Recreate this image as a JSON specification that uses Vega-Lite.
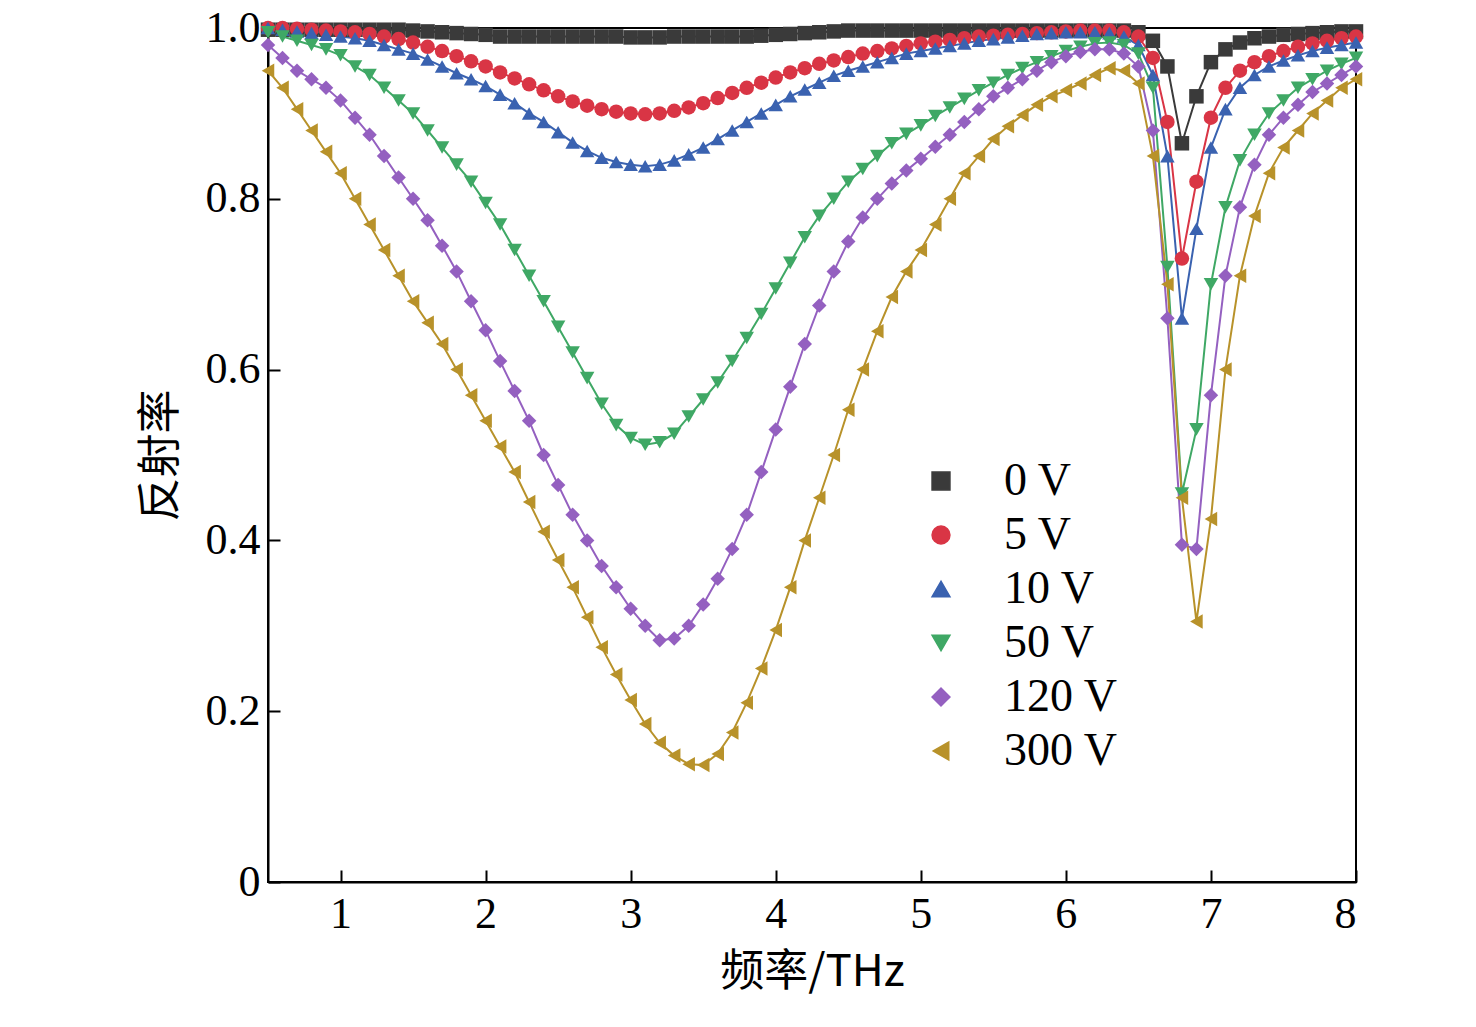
{
  "$schema": "https://vega.github.io/schema/vega-lite/v6.json",
  "width": 1088,
  "height": 854,
  "autosize": {"type": "none"},
  "padding": {"left": 268, "top": 28, "right": 120, "bottom": 145},
  "background": "white",
  "data": {
    "values": [
      {"f":0.5,"0 V":0.998,"5 V":1.0,"10 V":1.0,"50 V":0.995,"120 V":0.98,"300 V":0.95},
      {"f":0.6,"0 V":0.998,"5 V":1.0,"10 V":0.998,"50 V":0.99,"120 V":0.965,"300 V":0.93},
      {"f":0.7,"0 V":0.998,"5 V":0.999,"10 V":0.996,"50 V":0.985,"120 V":0.95,"300 V":0.905},
      {"f":0.8,"0 V":0.998,"5 V":0.998,"10 V":0.994,"50 V":0.98,"120 V":0.94,"300 V":0.88},
      {"f":0.9,"0 V":0.998,"5 V":0.997,"10 V":0.992,"50 V":0.975,"120 V":0.93,"300 V":0.855},
      {"f":1.0,"0 V":0.998,"5 V":0.996,"10 V":0.99,"50 V":0.968,"120 V":0.915,"300 V":0.83},
      {"f":1.1,"0 V":0.998,"5 V":0.995,"10 V":0.988,"50 V":0.955,"120 V":0.895,"300 V":0.8},
      {"f":1.2,"0 V":0.998,"5 V":0.993,"10 V":0.985,"50 V":0.945,"120 V":0.875,"300 V":0.77},
      {"f":1.3,"0 V":0.998,"5 V":0.99,"10 V":0.98,"50 V":0.93,"120 V":0.85,"300 V":0.74},
      {"f":1.4,"0 V":0.998,"5 V":0.987,"10 V":0.975,"50 V":0.915,"120 V":0.825,"300 V":0.71},
      {"f":1.5,"0 V":0.997,"5 V":0.983,"10 V":0.97,"50 V":0.9,"120 V":0.8,"300 V":0.68},
      {"f":1.6,"0 V":0.996,"5 V":0.978,"10 V":0.963,"50 V":0.88,"120 V":0.775,"300 V":0.655},
      {"f":1.7,"0 V":0.995,"5 V":0.973,"10 V":0.955,"50 V":0.86,"120 V":0.745,"300 V":0.63},
      {"f":1.8,"0 V":0.994,"5 V":0.967,"10 V":0.947,"50 V":0.84,"120 V":0.715,"300 V":0.6},
      {"f":1.9,"0 V":0.993,"5 V":0.961,"10 V":0.94,"50 V":0.82,"120 V":0.68,"300 V":0.57},
      {"f":2.0,"0 V":0.992,"5 V":0.955,"10 V":0.932,"50 V":0.795,"120 V":0.646,"300 V":0.54},
      {"f":2.1,"0 V":0.99,"5 V":0.948,"10 V":0.922,"50 V":0.77,"120 V":0.61,"300 V":0.51},
      {"f":2.2,"0 V":0.99,"5 V":0.941,"10 V":0.912,"50 V":0.74,"120 V":0.575,"300 V":0.48},
      {"f":2.3,"0 V":0.99,"5 V":0.934,"10 V":0.9,"50 V":0.71,"120 V":0.54,"300 V":0.445},
      {"f":2.4,"0 V":0.99,"5 V":0.927,"10 V":0.89,"50 V":0.68,"120 V":0.5,"300 V":0.41},
      {"f":2.5,"0 V":0.99,"5 V":0.92,"10 V":0.878,"50 V":0.65,"120 V":0.465,"300 V":0.377},
      {"f":2.6,"0 V":0.99,"5 V":0.914,"10 V":0.866,"50 V":0.62,"120 V":0.43,"300 V":0.345},
      {"f":2.7,"0 V":0.99,"5 V":0.909,"10 V":0.856,"50 V":0.59,"120 V":0.4,"300 V":0.31},
      {"f":2.8,"0 V":0.99,"5 V":0.905,"10 V":0.848,"50 V":0.56,"120 V":0.37,"300 V":0.275},
      {"f":2.9,"0 V":0.99,"5 V":0.902,"10 V":0.843,"50 V":0.535,"120 V":0.345,"300 V":0.243},
      {"f":3.0,"0 V":0.989,"5 V":0.9,"10 V":0.84,"50 V":0.52,"120 V":0.32,"300 V":0.213},
      {"f":3.1,"0 V":0.989,"5 V":0.899,"10 V":0.838,"50 V":0.512,"120 V":0.3,"300 V":0.185},
      {"f":3.2,"0 V":0.989,"5 V":0.9,"10 V":0.84,"50 V":0.515,"120 V":0.283,"300 V":0.163},
      {"f":3.3,"0 V":0.99,"5 V":0.903,"10 V":0.845,"50 V":0.525,"120 V":0.285,"300 V":0.148},
      {"f":3.4,"0 V":0.99,"5 V":0.907,"10 V":0.852,"50 V":0.545,"120 V":0.3,"300 V":0.138},
      {"f":3.5,"0 V":0.99,"5 V":0.912,"10 V":0.86,"50 V":0.565,"120 V":0.325,"300 V":0.137},
      {"f":3.6,"0 V":0.99,"5 V":0.918,"10 V":0.87,"50 V":0.585,"120 V":0.355,"300 V":0.15},
      {"f":3.7,"0 V":0.99,"5 V":0.924,"10 V":0.88,"50 V":0.61,"120 V":0.39,"300 V":0.175},
      {"f":3.8,"0 V":0.99,"5 V":0.93,"10 V":0.89,"50 V":0.637,"120 V":0.43,"300 V":0.21},
      {"f":3.9,"0 V":0.991,"5 V":0.936,"10 V":0.9,"50 V":0.665,"120 V":0.48,"300 V":0.25},
      {"f":4.0,"0 V":0.992,"5 V":0.942,"10 V":0.91,"50 V":0.695,"120 V":0.53,"300 V":0.295},
      {"f":4.1,"0 V":0.993,"5 V":0.948,"10 V":0.92,"50 V":0.725,"120 V":0.58,"300 V":0.345},
      {"f":4.2,"0 V":0.994,"5 V":0.953,"10 V":0.928,"50 V":0.755,"120 V":0.63,"300 V":0.4},
      {"f":4.3,"0 V":0.995,"5 V":0.958,"10 V":0.936,"50 V":0.78,"120 V":0.675,"300 V":0.45},
      {"f":4.4,"0 V":0.996,"5 V":0.962,"10 V":0.944,"50 V":0.8,"120 V":0.715,"300 V":0.5},
      {"f":4.5,"0 V":0.997,"5 V":0.966,"10 V":0.95,"50 V":0.82,"120 V":0.75,"300 V":0.553},
      {"f":4.6,"0 V":0.997,"5 V":0.97,"10 V":0.955,"50 V":0.835,"120 V":0.778,"300 V":0.6},
      {"f":4.7,"0 V":0.997,"5 V":0.973,"10 V":0.96,"50 V":0.85,"120 V":0.8,"300 V":0.645},
      {"f":4.8,"0 V":0.997,"5 V":0.976,"10 V":0.965,"50 V":0.865,"120 V":0.818,"300 V":0.685},
      {"f":4.9,"0 V":0.997,"5 V":0.979,"10 V":0.97,"50 V":0.876,"120 V":0.833,"300 V":0.715},
      {"f":5.0,"0 V":0.997,"5 V":0.982,"10 V":0.973,"50 V":0.886,"120 V":0.847,"300 V":0.74},
      {"f":5.1,"0 V":0.997,"5 V":0.984,"10 V":0.976,"50 V":0.897,"120 V":0.861,"300 V":0.77},
      {"f":5.2,"0 V":0.997,"5 V":0.986,"10 V":0.979,"50 V":0.907,"120 V":0.875,"300 V":0.8},
      {"f":5.3,"0 V":0.997,"5 V":0.988,"10 V":0.982,"50 V":0.917,"120 V":0.89,"300 V":0.83},
      {"f":5.4,"0 V":0.997,"5 V":0.99,"10 V":0.985,"50 V":0.927,"120 V":0.905,"300 V":0.85},
      {"f":5.5,"0 V":0.997,"5 V":0.991,"10 V":0.987,"50 V":0.936,"120 V":0.92,"300 V":0.87},
      {"f":5.6,"0 V":0.997,"5 V":0.992,"10 V":0.989,"50 V":0.945,"120 V":0.93,"300 V":0.885},
      {"f":5.7,"0 V":0.997,"5 V":0.993,"10 V":0.991,"50 V":0.953,"120 V":0.94,"300 V":0.898},
      {"f":5.8,"0 V":0.997,"5 V":0.994,"10 V":0.993,"50 V":0.96,"120 V":0.95,"300 V":0.91},
      {"f":5.9,"0 V":0.997,"5 V":0.995,"10 V":0.994,"50 V":0.967,"120 V":0.96,"300 V":0.92},
      {"f":6.0,"0 V":0.997,"5 V":0.996,"10 V":0.995,"50 V":0.973,"120 V":0.967,"300 V":0.927},
      {"f":6.1,"0 V":0.997,"5 V":0.997,"10 V":0.995,"50 V":0.978,"120 V":0.972,"300 V":0.935},
      {"f":6.2,"0 V":0.997,"5 V":0.997,"10 V":0.995,"50 V":0.982,"120 V":0.975,"300 V":0.945},
      {"f":6.3,"0 V":0.997,"5 V":0.997,"10 V":0.994,"50 V":0.983,"120 V":0.975,"300 V":0.953},
      {"f":6.4,"0 V":0.997,"5 V":0.995,"10 V":0.99,"50 V":0.98,"120 V":0.97,"300 V":0.95},
      {"f":6.5,"0 V":0.995,"5 V":0.99,"10 V":0.98,"50 V":0.97,"120 V":0.955,"300 V":0.935},
      {"f":6.6,"0 V":0.985,"5 V":0.965,"10 V":0.945,"50 V":0.93,"120 V":0.88,"300 V":0.85},
      {"f":6.7,"0 V":0.955,"5 V":0.89,"10 V":0.85,"50 V":0.72,"120 V":0.66,"300 V":0.7},
      {"f":6.8,"0 V":0.865,"5 V":0.73,"10 V":0.66,"50 V":0.455,"120 V":0.395,"300 V":0.45},
      {"f":6.9,"0 V":0.92,"5 V":0.82,"10 V":0.765,"50 V":0.53,"120 V":0.39,"300 V":0.305},
      {"f":7.0,"0 V":0.96,"5 V":0.895,"10 V":0.86,"50 V":0.7,"120 V":0.57,"300 V":0.425},
      {"f":7.1,"0 V":0.975,"5 V":0.93,"10 V":0.905,"50 V":0.79,"120 V":0.71,"300 V":0.6},
      {"f":7.2,"0 V":0.983,"5 V":0.95,"10 V":0.93,"50 V":0.845,"120 V":0.79,"300 V":0.71},
      {"f":7.3,"0 V":0.988,"5 V":0.96,"10 V":0.945,"50 V":0.875,"120 V":0.84,"300 V":0.78},
      {"f":7.4,"0 V":0.99,"5 V":0.967,"10 V":0.955,"50 V":0.9,"120 V":0.875,"300 V":0.83},
      {"f":7.5,"0 V":0.992,"5 V":0.973,"10 V":0.962,"50 V":0.915,"120 V":0.895,"300 V":0.86},
      {"f":7.6,"0 V":0.993,"5 V":0.978,"10 V":0.968,"50 V":0.93,"120 V":0.91,"300 V":0.88},
      {"f":7.7,"0 V":0.994,"5 V":0.982,"10 V":0.973,"50 V":0.94,"120 V":0.925,"300 V":0.9},
      {"f":7.8,"0 V":0.995,"5 V":0.985,"10 V":0.977,"50 V":0.95,"120 V":0.935,"300 V":0.915},
      {"f":7.9,"0 V":0.996,"5 V":0.988,"10 V":0.98,"50 V":0.958,"120 V":0.945,"300 V":0.93},
      {"f":8.0,"0 V":0.996,"5 V":0.99,"10 V":0.983,"50 V":0.965,"120 V":0.955,"300 V":0.94}
    ]
  },
  "transform": [
    {"fold": ["0 V", "5 V", "10 V", "50 V", "120 V", "300 V"], "as": ["series", "r"]}
  ],
  "encoding": {
    "x": {
      "field": "f", "type": "quantitative",
      "scale": {"domain": [0.5, 8], "nice": false, "zero": false},
      "axis": {"title": "频率/THz", "values": [1, 2, 3, 4, 5, 6, 7, 8], "grid": false}
    },
    "y": {
      "field": "r", "type": "quantitative",
      "scale": {"domain": [0, 1], "nice": false},
      "axis": {
        "title": "反射率", "values": [0, 0.2, 0.4, 0.6, 0.8, 1.0], "grid": false,
        "labelExpr": "datum.value == 0 ? '0' : format(datum.value, '.1f')"
      }
    },
    "color": {
      "field": "series", "type": "nominal",
      "scale": {
        "domain": ["0 V", "5 V", "10 V", "50 V", "120 V", "300 V"],
        "range": ["#3a3a3a", "#d93545", "#3a62b0", "#3fa865", "#9460c0", "#b8922a"]
      },
      "legend": {
        "title": null, "orient": "none", "legendX": 650, "legendY": 430,
        "labelFontSize": 46, "symbolSize": 320, "rowPadding": 8,
        "labelOffset": 40
      }
    }
  },
  "layer": [
    {"mark": {"type": "line", "strokeWidth": 2}},
    {
      "mark": {"type": "point", "filled": true, "size": 210, "opacity": 1},
      "encoding": {
        "shape": {
          "field": "series", "type": "nominal",
          "scale": {
            "domain": ["0 V", "5 V", "10 V", "50 V", "120 V", "300 V"],
            "range": ["square", "circle", "triangle-up", "triangle-down", "diamond", "triangle-left"]
          },
          "legend": {
            "title": null, "orient": "none", "legendX": 650, "legendY": 430,
            "labelFontSize": 46, "symbolSize": 320, "rowPadding": 8,
            "labelOffset": 40
          }
        }
      }
    }
  ],
  "config": {
    "font": "Liberation Serif",
    "view": {"stroke": "black", "strokeWidth": 2},
    "axis": {
      "labelFont": "Liberation Serif", "labelFontSize": 44, "labelColor": "black",
      "titleFont": "Noto Sans CJK SC", "titleFontSize": 44, "titleFontWeight": "normal", "titleColor": "black",
      "domainColor": "black", "domainWidth": 2, "tickColor": "black", "tickWidth": 2, "tickSize": -12
    },
    "axisY": {"titlePadding": 22, "labelPadding": 20},
    "axisX": {"titlePadding": 14, "labelPadding": 22},
    "legend": {"labelFont": "Liberation Serif", "labelColor": "black", "symbolOpacity": 1}
  }
}
